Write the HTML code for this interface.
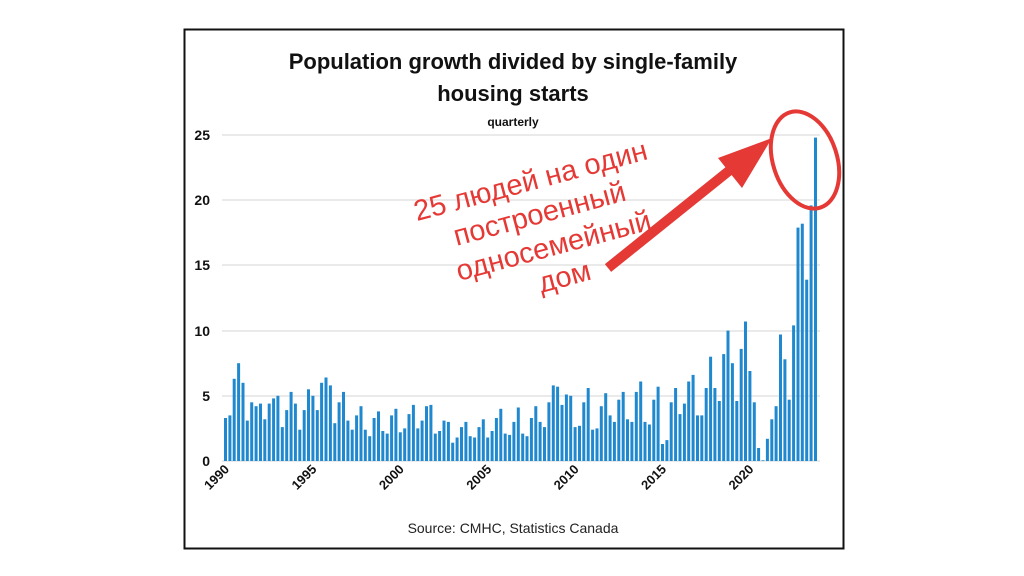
<!DOCTYPE html>
<html><head><meta charset="utf-8"><style>
html,body{margin:0;padding:0;background:#fff;width:1024px;height:576px;overflow:hidden}
svg{display:block}
</style></head><body>
<svg width="1024" height="576" xmlns="http://www.w3.org/2000/svg" font-family="Liberation Sans, DejaVu Sans, sans-serif">
<rect x="0" y="0" width="1024" height="576" fill="#fff"/>
<rect x="184.5" y="29.5" width="659" height="519" fill="#fff" stroke="#111" stroke-width="2"/>
<text x="513" y="69" text-anchor="middle" font-size="22" font-weight="bold" fill="#111">Population growth divided by single-family</text>
<text x="513" y="101" text-anchor="middle" font-size="22" font-weight="bold" fill="#111">housing starts</text>
<text x="513" y="126" text-anchor="middle" font-size="12" font-weight="bold" fill="#111">quarterly</text>
<g stroke="#e3e3e3" stroke-width="1.5">
<line x1="222" x2="820" y1="135" y2="135"/>
<line x1="222" x2="820" y1="200" y2="200"/>
<line x1="222" x2="820" y1="265" y2="265"/>
<line x1="222" x2="820" y1="331" y2="331"/>
<line x1="222" x2="820" y1="396" y2="396"/>
<line x1="222" x2="820" y1="461" y2="461"/>
</g>
<g font-size="14" font-weight="bold" fill="#111" text-anchor="end">
<text x="210" y="140">25</text><text x="210" y="205">20</text><text x="210" y="270">15</text>
<text x="210" y="336">10</text><text x="210" y="401">5</text><text x="210" y="466">0</text>
</g>
<g id="bars" fill="#1f88cf"></g>
<g id="xl" font-size="13" font-weight="bold" fill="#111"></g>
<text x="513" y="533" text-anchor="middle" font-size="14" fill="#222">Source:  CMHC, Statistics Canada</text>
<g fill="#e53935" font-size="29" text-anchor="middle">
<text transform="translate(533,190) rotate(-15)">25 людей на один</text>
<text transform="translate(542,223) rotate(-15)">построенный</text>
<text transform="translate(556,255) rotate(-15)">односемейный</text>
<text transform="translate(567,286) rotate(-15)">дом</text>
</g>
<line x1="608" y1="268" x2="735" y2="166" stroke="#e53935" stroke-width="10"/>
<polygon points="772,138 718,158 742,188" fill="#e53935"/>
<ellipse cx="805" cy="160" rx="32" ry="50" transform="rotate(-18 805 160)" fill="none" stroke="#e53935" stroke-width="4"/>
</svg>
<script>
var v=[3.3,3.5,6.3,7.5,6.0,3.1,4.5,4.2,4.4,3.2,4.4,4.8,5.0,2.6,3.9,5.3,4.4,2.4,3.9,5.5,5.0,3.9,6.0,6.4,5.8,2.9,4.5,5.3,3.1,2.4,3.5,4.2,2.4,1.9,3.3,3.8,2.3,2.1,3.5,4.0,2.2,2.5,3.6,4.3,2.5,3.1,4.2,4.3,2.1,2.3,3.1,3.0,1.4,1.8,2.6,3.0,1.9,1.8,2.6,3.2,1.8,2.3,3.3,4.0,2.1,2.0,3.0,4.1,2.1,1.9,3.3,4.2,3.0,2.6,4.5,5.8,5.7,4.3,5.1,5.0,2.6,2.7,4.5,5.6,2.4,2.5,4.2,5.2,3.5,3.0,4.7,5.3,3.2,3.0,5.3,6.1,3.0,2.8,4.7,5.7,1.3,1.6,4.5,5.6,3.6,4.4,6.1,6.6,3.5,3.5,5.6,8.0,5.6,4.6,8.2,10.0,7.5,4.6,8.6,10.7,6.9,4.5,1.0,0.05,1.7,3.2,4.2,9.7,7.8,4.7,10.4,17.9,18.2,13.9,19.6,24.8];
var g=document.getElementById('bars'),s='';
for(var i=0;i<v.length;i++){var x=224+i*4.37,h=v[i]*13.04;s+='<rect x="'+x.toFixed(1)+'" y="'+(461-h).toFixed(1)+'" width="3" height="'+h.toFixed(1)+'"/>';}
g.innerHTML=s;
var xl=document.getElementById('xl'),t='';
for(var k=0;k<7;k++){var yr=1990+5*k,x=224+k*20*4.37+2;t+='<text text-anchor="end" transform="translate('+(x+4)+',470) rotate(-45)">'+yr+'</text>';}
xl.innerHTML=t;
</script>
</body></html>
